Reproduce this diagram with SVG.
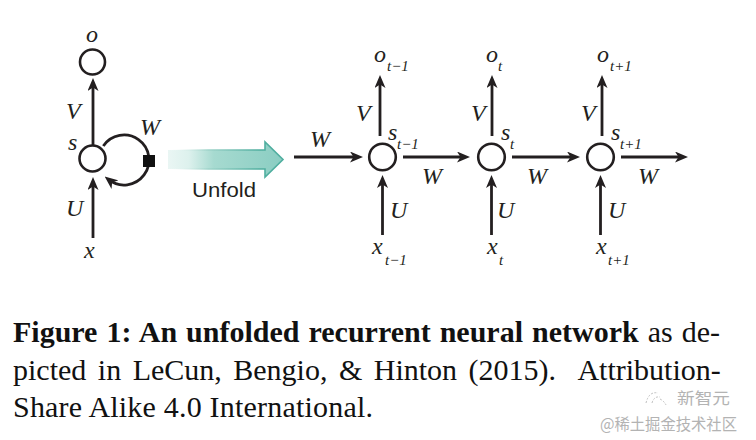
<svg xmlns="http://www.w3.org/2000/svg" width="756" height="440" viewBox="0 0 756 440">
<style>
.ln{stroke:#231f20;stroke-width:2.8;fill:none}
.nd{stroke:#231f20;stroke-width:2.6;fill:#fff}
.lb{font-family:"Liberation Serif","Times New Roman",serif;font-style:italic;font-size:24px;fill:#231f20}
.sb{font-family:"Liberation Serif","Times New Roman",serif;font-style:italic;font-size:15px;fill:#231f20}
.cap{font-family:"Liberation Serif","Times New Roman",serif;font-size:30px;fill:#111}
.wm{font-family:"Noto Sans CJK SC","Noto Sans",sans-serif;fill:#9a9a9a}
</style>
<defs>
<marker id="ah" viewBox="0 0 13 11" refX="8" refY="5.5" markerWidth="13" markerHeight="11" markerUnits="userSpaceOnUse" orient="auto">
<path d="M0,0 L13,5.5 L0,11 L3.5,5.5 z" fill="#231f20"/>
</marker>
<linearGradient id="ug" x1="168" y1="0" x2="283" y2="0" gradientUnits="userSpaceOnUse">
<stop offset="0" stop-color="#eaf6f4"/>
<stop offset="0.18" stop-color="#ddf1ed"/>
<stop offset="0.4" stop-color="#a6dad0"/>
<stop offset="1" stop-color="#8acdc2"/>
</linearGradient>
<linearGradient id="us" x1="168" y1="0" x2="283" y2="0" gradientUnits="userSpaceOnUse">
<stop offset="0" stop-color="#ffffff" stop-opacity="0"/>
<stop offset="0.35" stop-color="#9fd4ca"/>
<stop offset="0.8" stop-color="#4fae9f"/>
</linearGradient>
</defs>
<rect width="756" height="440" fill="#fff"/>

<g id="connectors">
<line class="ln" x1="93" y1="145" x2="93" y2="83" marker-end="url(#ah)"/>
<line class="ln" x1="93" y1="238" x2="93" y2="182" marker-end="url(#ah)"/>
<path class="ln" d="M103.3,146 A25,25 0 1 1 108.6,179.7" marker-end="url(#ah)"/>
<line class="ln" x1="380" y1="136" x2="380" y2="80" marker-end="url(#ah)"/>
<line class="ln" x1="492" y1="136" x2="492" y2="80" marker-end="url(#ah)"/>
<line class="ln" x1="602" y1="136" x2="602" y2="80" marker-end="url(#ah)"/>
<line class="ln" x1="382.5" y1="235" x2="382.5" y2="180" marker-end="url(#ah)"/>
<line class="ln" x1="491.5" y1="235" x2="491.5" y2="180" marker-end="url(#ah)"/>
<line class="ln" x1="600.5" y1="235" x2="600.5" y2="180" marker-end="url(#ah)"/>
<line class="ln" x1="294" y1="157" x2="358" y2="157" marker-end="url(#ah)"/>
<line class="ln" x1="403" y1="157" x2="465" y2="157" marker-end="url(#ah)"/>
<line class="ln" x1="512" y1="157" x2="575" y2="157" marker-end="url(#ah)"/>
<line class="ln" x1="621" y1="157" x2="683" y2="157" marker-end="url(#ah)"/>
</g>

<g id="node-o">
<circle class="nd" cx="92.5" cy="62" r="12.5"/>
<text class="lb" x="86" y="42">o</text>
</g>
<g id="node-s">
<circle class="nd" cx="92.5" cy="158.5" r="13"/>
<text class="lb" x="68" y="150">s</text>
</g>
<g id="delay">
<rect x="143" y="155" width="12" height="12" fill="#111"/>
</g>
<g id="left-labels">
<text class="lb" x="66" y="119">V</text>
<text class="lb" x="140" y="135">W</text>
<text class="lb" x="66" y="216">U</text>
<text class="lb" x="84" y="258">x</text>
</g>

<g id="unfold">
<polygon points="168,150 265,150 265,142 283,159.5 265,177 265,169 168,169" fill="url(#ug)" stroke="url(#us)" stroke-width="1.6" stroke-linejoin="miter"/>
<text x="192" y="197" font-family="Liberation Sans, Arial, sans-serif" font-size="20" fill="#231f20" textLength="64" lengthAdjust="spacingAndGlyphs">Unfold</text>
</g>

<g id="node-s-t-1">
<circle class="nd" cx="382.5" cy="157" r="13.3"/>
<text class="lb" x="388" y="140">s</text><text class="sb" x="397" y="149">t−1</text>
</g>
<g id="node-s-t">
<circle class="nd" cx="491.5" cy="157" r="13.3"/>
<text class="lb" x="501" y="140">s</text><text class="sb" x="510" y="149">t</text>
</g>
<g id="node-s-t+1">
<circle class="nd" cx="600.5" cy="157" r="13.3"/>
<text class="lb" x="611" y="140">s</text><text class="sb" x="620" y="149">t+1</text>
</g>

<g id="output-labels">
<text class="lb" x="374" y="62">o</text><text class="sb" x="387" y="71">t−1</text>
<text class="lb" x="486" y="62">o</text><text class="sb" x="498" y="71">t</text>
<text class="lb" x="597" y="62">o</text><text class="sb" x="610" y="71">t+1</text>
</g>
<g id="input-labels">
<text class="lb" x="372" y="254">x</text><text class="sb" x="385" y="265">t−1</text>
<text class="lb" x="487" y="254">x</text><text class="sb" x="499" y="265">t</text>
<text class="lb" x="596" y="254">x</text><text class="sb" x="608" y="265">t+1</text>
</g>
<g id="weight-labels">
<text class="lb" x="356" y="121">V</text>
<text class="lb" x="471" y="121">V</text>
<text class="lb" x="581" y="121">V</text>
<text class="lb" x="390" y="218">U</text>
<text class="lb" x="497" y="218">U</text>
<text class="lb" x="608" y="218">U</text>
<text class="lb" x="310" y="147">W</text>
<text class="lb" x="422" y="184">W</text>
<text class="lb" x="527" y="184">W</text>
<text class="lb" x="638" y="184">W</text>
</g>

<g id="caption">
<text class="cap" x="13" y="342" word-spacing="1.5"><tspan font-weight="bold">Figure 1: An unfolded recurrent neural network</tspan> as de-</text>
<text class="cap" x="13" y="380" word-spacing="4">picted in LeCun, Bengio, &amp; Hinton (2015).&#160; Attribution-</text>
<text class="cap" x="13" y="417" textLength="360" lengthAdjust="spacing">Share Alike 4.0 International.</text>
</g>

<g id="watermark" opacity="0.75">
<path d="M646,403 q3,-12 12,-10 M652,403 q2,-7 8,-6 M660,399 q4,2 6,6" fill="none" stroke="#aaa" stroke-width="1" stroke-dasharray="2 1.5"/>
<text class="wm" x="677" y="404" font-size="16" textLength="53" lengthAdjust="spacingAndGlyphs">新智元</text>
<text class="wm" x="600" y="430" font-size="16" textLength="137" lengthAdjust="spacingAndGlyphs" fill="#b0b0b0">@稀土掘金技术社区</text>
</g>
</svg>
